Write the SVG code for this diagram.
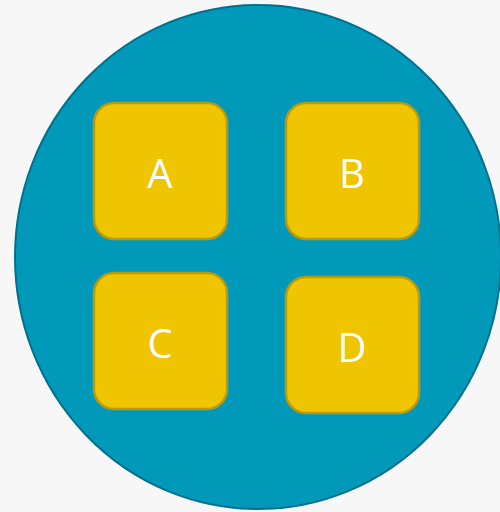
<svg xmlns="http://www.w3.org/2000/svg" width="500" height="512" viewBox="0 0 500 512">
<style>
.box{fill:#efc400;stroke:#b89a0a;stroke-width:2.5}
.lbl{font-family:"Open Sans","Liberation Sans",sans-serif;font-size:40px;fill:#ffffff;text-anchor:middle}
</style>
<rect width="500" height="512" fill="#f7f7f7"/>
<g id="container">
<ellipse cx="258" cy="257" rx="243" ry="252" fill="#0099ba" stroke="#00708c" stroke-width="2"/>
</g>
<g id="connectors"></g>
<g id="nodeA"><rect class="box" x="94" y="103" width="133" height="136" rx="20"/><text class="lbl" x="160" y="188">A</text></g>
<g id="nodeB"><rect class="box" x="286" y="103" width="133" height="136" rx="20"/><text class="lbl" x="352" y="188">B</text></g>
<g id="nodeC"><rect class="box" x="94" y="273" width="133" height="136" rx="20"/><text class="lbl" x="160" y="358">C</text></g>
<g id="nodeD"><rect class="box" x="286" y="277" width="133" height="136" rx="20"/><text class="lbl" x="352" y="362">D</text></g>
</svg>
